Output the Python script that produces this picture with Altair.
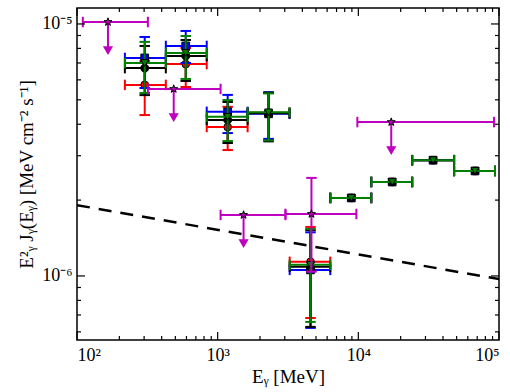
import altair as alt
import pandas as pd

# ---------------- data ----------------
# energy bins shared by the four coloured series (MeV)
E_mid = [303, 593, 1178, 2300, 4571]
E_lo = [219, 428, 836, 1633, 3250]
E_hi = [428, 836, 1633, 3243, 6320]

red_F = [5.73e-6, 6.93e-6, 3.90e-6, 4.44e-6, 1.138e-6]
red_lo = [4.35e-6, 5.62e-6, 3.16e-6, 3.47e-6, 6.81e-7]
red_hi = [7.13e-6, 8.03e-6, 4.69e-6, 5.32e-6, 1.565e-6]

green_F = [7.00e-6, 7.67e-6, 4.28e-6, 4.46e-6, 1.107e-6]
green_lo = [5.32e-6, 6.05e-6, 3.43e-6, 3.45e-6, 6.57e-7]
green_hi = [8.49e-6, 8.96e-6, 4.99e-6, 5.30e-6, 1.537e-6]

blue_F = [7.33e-6, 8.18e-6, 4.48e-6, 4.40e-6, 1.057e-6]
blue_lo = [5.57e-6, 7.00e-6, 3.69e-6, 3.50e-6, 6.22e-7]
blue_hi = [8.88e-6, 9.38e-6, 5.23e-6, 5.36e-6, 1.49e-6]

black_F = [6.68e-6, 7.46e-6, 4.16e-6, 4.42e-6, 1.087e-6]
black_lo = [5.22e-6, 5.94e-6, 3.37e-6, 3.42e-6, 6.28e-7]
black_hi = [8.18e-6, 8.64e-6, 4.90e-6, 5.34e-6, 1.52e-6]

# high-energy bins (no vertical error bars visible)
HE_mid = [8913, 17400, 34000, 67600]
HE_lo = [6320, 12360, 24150, 47960]
HE_hi = [12360, 24150, 47960, 93700]
HE_F = [2.04e-6, 2.36e-6, 2.88e-6, 2.61e-6]

# magenta upper limits
UL_E = [166, 487, 1528, 17140]
UL_lo = [110, 319, 1049, 9840]
UL_hi = [319, 1049, 3034, 92200]
UL_F = [1.018e-5, 5.52e-6, 1.746e-6, 4.08e-6]
UL_arrow = [7.88e-6, 4.27e-6, 1.35e-6, 3.16e-6]

# magenta point with error bars
MP_E = [4642]
MP_lo = [3034]
MP_hi = [9684]
MP_F = [1.762e-6]
MP_Flo = [1.04e-6]
MP_Fhi = [2.45e-6]

# dashed reference line
LINE_E = [100, 100000]
LINE_F = [1.91e-6, 9.72e-7]

# axis ticks
X_MAJOR = [100, 1000, 10000, 100000]
X_MINOR = [m * 10 ** d for d in (2, 3, 4) for m in range(2, 10)]
Y_MAJOR = [1e-6, 1e-5]
Y_MINOR = [6e-7, 7e-7, 8e-7, 9e-7] + [m * 1e-6 for m in range(2, 10)]

# ---------------- styling ----------------
W, H = 422, 332
FONT = "Liberation Serif"
RED, GREEN, BLUE, BLACK, MAG = "#ff0000", "#008000", "#0000ff", "#000000", "#bf00bf"
STAR = ("M0,-1L0.235,-0.324L0.951,-0.309L0.380,0.124L0.588,0.809L0,0.4"
        "L-0.588,0.809L-0.380,0.124L-0.951,-0.309L-0.235,-0.324Z")

xs = alt.Scale(type="log", domain=[100, 100000], nice=False)
ys = alt.Scale(type="log", domain=[5.57e-7, 1.157e-5], nice=False)

x_label_expr = ("'10' + (round(log(datum.value)/LN10)==2 ? '²' : round(log(datum.value)/LN10)==3 ? '³' : "
                "round(log(datum.value)/LN10)==4 ? '⁴' : '⁵')")
y_label_expr = "round(log(datum.value)/LN10)==-5 ? '10⁻⁵' : '10⁻⁶'"
XAXIS = alt.Axis(values=X_MAJOR, labelExpr=x_label_expr, title="Eᵧ [MeV]",
                 labelPadding=6, titlePadding=3, titleFontSize=19)
YAXIS = alt.Axis(values=Y_MAJOR, labelExpr=y_label_expr, title="E²ᵧ Jᵧ(Eᵧ) [MeV cm⁻² s⁻¹]",
                 labelPadding=5, titlePadding=5, titleFontSize=19)


def X(f):
    return alt.X(f + ":Q", scale=xs, axis=XAXIS)


def Y(f):
    return alt.Y(f + ":Q", scale=ys, axis=YAXIS)


def make_df(E, lo, hi, F, Flo=None, Fhi=None):
    d = {"E": E, "Elo": lo, "Ehi": hi, "F": F}
    if Flo is not None:
        d["Flo"] = Flo
        d["Fhi"] = Fhi
    return pd.DataFrame(d)


def errbar_layers(df, color, vertical=True):
    base = alt.Chart(df)
    lay = [
        base.mark_rule(color=color, strokeWidth=2, clip=True).encode(x=X("Elo"), x2="Ehi", y=Y("F")),
        base.mark_point(shape="stroke", angle=90, size=110, strokeWidth=2, color=color, opacity=1, clip=True).encode(x=X("Elo"), y=Y("F")),
        base.mark_point(shape="stroke", angle=90, size=110, strokeWidth=2, color=color, opacity=1, clip=True).encode(x=X("Ehi"), y=Y("F")),
    ]
    if vertical:
        lay += [
            base.mark_rule(color=color, strokeWidth=2, clip=True).encode(x=X("E"), y=Y("Flo"), y2="Fhi"),
            base.mark_point(shape="stroke", size=110, strokeWidth=2, color=color, opacity=1, clip=True).encode(x=X("E"), y=Y("Flo")),
            base.mark_point(shape="stroke", size=110, strokeWidth=2, color=color, opacity=1, clip=True).encode(x=X("E"), y=Y("Fhi")),
        ]
    return lay


def marker(df, color, shape, size, angle=0):
    return alt.Chart(df).mark_point(
        shape=shape, filled=True, fill=color, stroke="black", strokeWidth=1,
        size=size, opacity=1, angle=angle, clip=True
    ).encode(x=X("E"), y=Y("F"))


series = [
    (RED, red_F, red_lo, red_hi, "circle", 60, 0),
    (BLUE, blue_F, blue_lo, blue_hi, "square", 60, 0),
    (BLACK, black_F, black_lo, black_hi, "cross", 55, 45),
    (GREEN, green_F, green_lo, green_hi, "triangle-down", 60, 0),
]

layers = []
# dashed line
line_df = pd.DataFrame({"E": LINE_E, "F": LINE_F})
layers.append(
    alt.Chart(line_df).mark_line(color="black", strokeWidth=2.5, strokeDash=[13, 9], clip=True)
    .encode(x=X("E"), y=Y("F"))
)

he_df = make_df(HE_mid, HE_lo, HE_hi, HE_F)
for color, F, lo, hi, shape, size, ang in series:
    df = make_df(E_mid, E_lo, E_hi, F, lo, hi)
    layers += errbar_layers(df, color, True)
    layers.append(marker(df, color, shape, size, ang))
    layers += errbar_layers(he_df, color, False)
    layers.append(marker(he_df, color, shape, size, ang))

# magenta upper limits
ul_df = pd.DataFrame({"E": UL_E, "Elo": UL_lo, "Ehi": UL_hi, "F": UL_F, "Fa": UL_arrow})
layers += errbar_layers(ul_df, MAG, False)
layers.append(alt.Chart(ul_df).mark_rule(color=MAG, strokeWidth=2, clip=True).encode(x=X("E"), y=Y("F"), y2="Fa"))
layers.append(alt.Chart(ul_df).mark_point(shape="triangle-down", filled=True, fill=MAG, stroke=MAG, size=45, opacity=1, clip=True)
              .encode(x=X("E"), y=Y("Fa")))
mp_df = make_df(MP_E, MP_lo, MP_hi, MP_F, MP_Flo, MP_Fhi)
layers += errbar_layers(mp_df, MAG, True)
layers.append(marker(ul_df, MAG, STAR, 70))
layers.append(marker(mp_df, MAG, STAR, 70))

# inside ticks (all four sides)
xmaj = pd.DataFrame({"v": X_MAJOR})
xmin = pd.DataFrame({"v": X_MINOR})
ymaj = pd.DataFrame({"v": Y_MAJOR})
ymin = pd.DataFrame({"v": Y_MINOR})
for d, L in ((xmaj, 8), (xmin, 4)):
    layers.append(alt.Chart(d).mark_rule(color="black", strokeWidth=1.2).encode(x=X("v"), y=alt.value(H), y2=alt.value(H - L)))
    layers.append(alt.Chart(d).mark_rule(color="black", strokeWidth=1.2).encode(x=X("v"), y=alt.value(0), y2=alt.value(L)))
for d, L in ((ymaj, 8), (ymin, 4)):
    layers.append(alt.Chart(d).mark_rule(color="black", strokeWidth=1.2).encode(y=Y("v"), x=alt.value(0), x2=alt.value(L)))
    layers.append(alt.Chart(d).mark_rule(color="black", strokeWidth=1.2).encode(y=Y("v"), x=alt.value(W), x2=alt.value(W - L)))

chart = alt.layer(*layers).properties(
    width=W, height=H,
    autosize=alt.AutoSizeParams(type="none"),
    padding={"left": 77, "top": 8, "right": 11, "bottom": 52},
).configure_view(stroke="black", strokeWidth=1.5).configure_axis(
    labelFont=FONT, titleFont=FONT, labelFontSize=18, titleFontSize=19,
    titleFontWeight="normal", labelColor="black", titleColor="black",
    ticks=False, domain=False, grid=False,
)

chart.save("out.html", embed_options={"renderer": "svg", "actions": False})
